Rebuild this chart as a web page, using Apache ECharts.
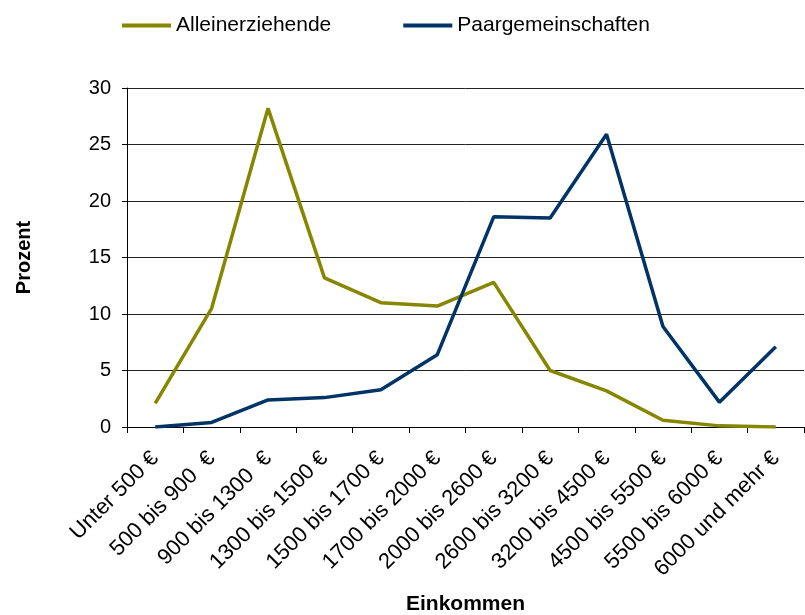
<!DOCTYPE html>
<html>
<head>
<meta charset="utf-8">
<script src="https://cdn.jsdelivr.net/npm/echarts@6/dist/echarts.min.js"></script>
<style>html,body{margin:0;padding:0;background:#fff}#c{width:805px;height:615px}</style>
</head>
<body>
<div id="c"></div>
<script>
const categories = ['Unter 500 €','500 bis 900  €','900 bis 1300  €','1300 bis 1500 €','1500 bis 1700 €','1700 bis 2000 €','2000 bis 2600 €','2600 bis 3200 €','3200 bis 4500 €','4500 bis 5500 €','5500 bis 6000 €','6000 und mehr €'];
const alleinerziehende = [2.1, 10.5, 28.2, 13.2, 11.0, 10.7, 12.8, 5.0, 3.2, 0.6, 0.1, 0.0];
const paargemeinschaften = [0.0, 0.4, 2.4, 2.6, 3.3, 6.4, 18.6, 18.5, 25.9, 8.9, 2.2, 7.1];
const seriesNames = ['Alleinerziehende', 'Paargemeinschaften'];
const yTicks = {min: 0, max: 30, interval: 5};

const font = 'Liberation Sans, Arial, sans-serif';
const chart = echarts.init(document.getElementById('c'), null, {renderer: 'canvas'});
chart.setOption({
  animation: false,
  backgroundColor: '#fff',
  textStyle: {fontFamily: font},
  legend: {
    left: 117, top: 10,
    icon: 'rect', itemWidth: 49, itemHeight: 4, itemGap: 72,
    textStyle: {fontSize: 21, color: '#000', fontFamily: font},
    data: seriesNames
  },
  grid: {left: 127, right: 1, top: 88, bottom: 188, containLabel: false, outerBoundsMode: 'none'},
  xAxis: {
    type: 'category', data: categories, boundaryGap: true,
    name: 'Einkommen', nameLocation: 'middle', nameGap: 167,
    nameTextStyle: {fontSize: 21, fontWeight: 'bold', color: '#000', fontFamily: font},
    axisLine: {lineStyle: {color: '#000', width: 1}},
    axisTick: {show: true, length: 6, lineStyle: {color: '#000'}},
    axisLabel: {interval: 0, rotate: 45, fontSize: 22, color: '#000', margin: 28, fontFamily: font},
    splitLine: {show: false}
  },
  yAxis: {
    type: 'value', min: yTicks.min, max: yTicks.max, interval: yTicks.interval,
    name: 'Prozent', nameLocation: 'middle', nameGap: 93, nameRotate: 90,
    nameTextStyle: {fontSize: 20, fontWeight: 'bold', color: '#000', fontFamily: font},
    axisLine: {show: true, lineStyle: {color: '#000', width: 1}},
    axisTick: {show: true, length: 5, lineStyle: {color: '#000'}},
    axisLabel: {fontSize: 20, color: '#000', margin: 16, fontFamily: font},
    splitLine: {show: true, lineStyle: {color: '#222', width: 1}}
  },
  series: [
    {name: seriesNames[0], type: 'line', data: alleinerziehende, symbol: 'none',
     lineStyle: {color: '#868600', width: 3.5}, itemStyle: {color: '#868600'}},
    {name: seriesNames[1], type: 'line', data: paargemeinschaften, symbol: 'none',
     lineStyle: {color: '#003366', width: 3.5}, itemStyle: {color: '#003366'}}
  ]
});
</script>
</body>
</html>
